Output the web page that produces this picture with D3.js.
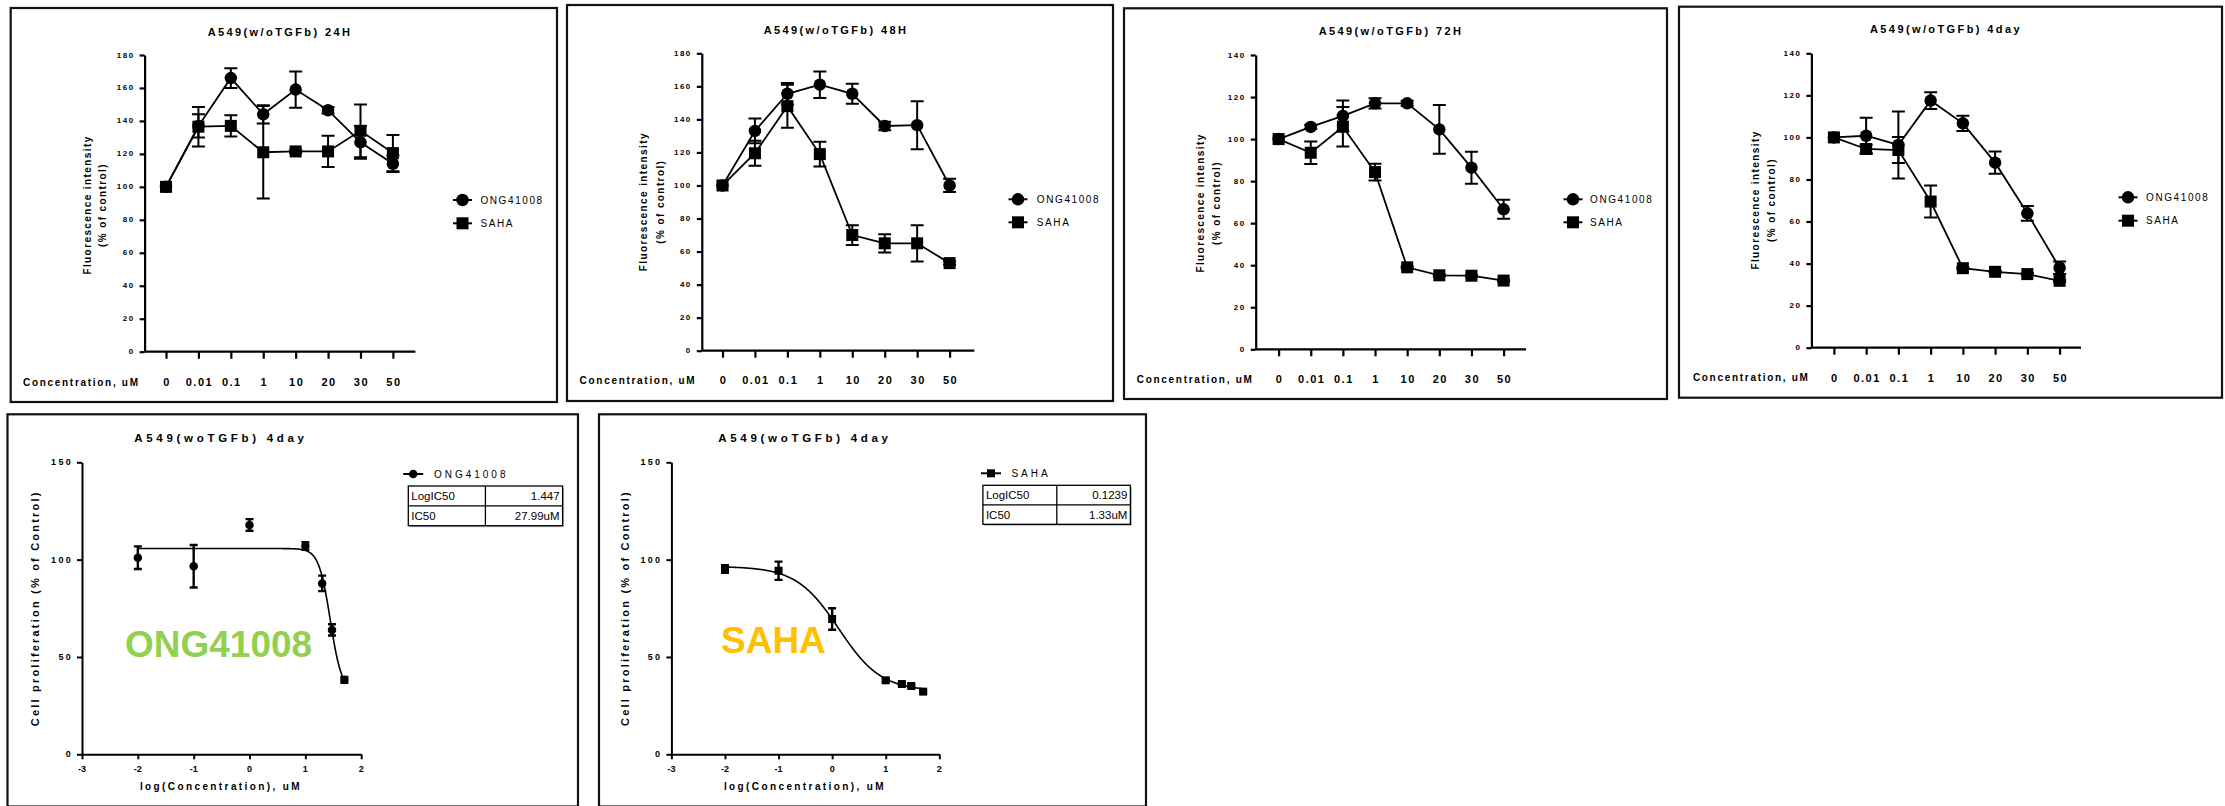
<!DOCTYPE html>
<html><head><meta charset="utf-8">
<script src="https://cdn.jsdelivr.net/npm/d3@7"></script>
<style>
body{margin:0;background:#fff}
svg text{font-family:"Liberation Sans",Arial,sans-serif;fill:#000}
</style></head><body>
<svg id="c" width="2225" height="806"></svg>
<script>
// ---------------- DATA ----------------
const concLabels = ["0","0.01","0.1","1","10","20","30","50"];
const seriesNames = ["ONG41008","SAHA"];
const yTicks180 = [0,20,40,60,80,100,120,140,160,180];
const yTicks140 = [0,20,40,60,80,100,120,140];

const ong24 = [100,137,166,144,159,146.5,127,114];
const ong24Err = [0,7,6,5.5,11,2,10,5];
const saha24 = [100,136.5,137,121,121.5,121.5,134,120.5];
const saha24Err = [0,12,6.5,28,1,9.5,16,11];

const ong48 = [100,133,155.5,161,155.5,136,136.5,100];
const ong48Err = [0,7.5,6.5,8,6,2.5,14.5,4];
const saha48 = [100,119.5,148,119,70,65,65,53];
const saha48Err = [0,7.5,13,7.5,6,5.5,11,1];

const ong72 = [100,105.8,111,117,117,104.6,86.4,66.6];
const ong72Err = [0,1,7.3,2.4,1.2,11.6,7.6,4.5];
const saha72 = [100,93.5,105.9,84.3,39,35.2,35,32.7];
const saha72Err = [0,5.3,9.4,4,0.5,0.5,0.5,0.5];

const ong4d = [100,100.8,96.4,117.5,106.7,88,63.9,38];
const ong4dErr = [0,8.6,15.9,4,3.6,5.3,3.5,3];
const saha4d = [100,94.5,94,69.5,37.8,36.1,35,31.8];
const saha4dErr = [0,2,6.2,7.6,0.5,0.5,0.5,0.5];

const logConc = [-2,-1,0,1,1.301,1.477,1.699];
const ongProlif = [101,96.6,117.8,107,87.8,63.9,38.2];
const ongProlifErr = [5.8,10.9,3,1.9,4,2.9,1.5];
const sahaProlif = [95.2,94.3,69.5,38,36.1,35.1,32.2];
const sahaProlifErr = [2,4.7,5.5,0.8,0.5,0.5,0.5];
const xTicksLog = [-3,-2,-1,0,1,2];
const yTicksProlif = [0,50,100,150];
// fitted 4PL parameters: [top, bottom, logIC50, hill]
const ongFit = [105.7,32,1.447,4.2];
const sahaFit = [96.5,32.5,0.1239,1.1];
const ongTable = [["LogIC50","1.447"],["IC50","27.99uM"]];
const sahaTable = [["LogIC50","0.1239"],["IC50","1.33uM"]];

// ---------------- DRAW ----------------
const svg = d3.select("#c");
svg.append("rect").attr("width",2225).attr("height",806).attr("fill","#fff");

function box(g,b,sw){
  g.append("rect").attr("x",b[0]).attr("y",b[1]).attr("width",b[2]-b[0]).attr("height",b[3]-b[1])
   .attr("fill","none").attr("stroke","#111").attr("stroke-width",sw||2.2);
}
function marker(g,type,cx,cy,s){
  if(type==="circle") g.append("circle").attr("cx",cx).attr("cy",cy).attr("r",s/2).attr("fill","#000");
  else g.append("rect").attr("x",cx-s/2).attr("y",cy-s/2).attr("width",s).attr("height",s).attr("fill","#000");
}
function styleAxis(a,sw){
  a.selectAll("path,line").attr("stroke","#000").attr("stroke-width",sw);
  a.selectAll("text").remove();
}

function drawTop(p, series){
  const g = svg.append("g");
  box(g,p.box);
  const x = d3.scalePoint().domain(concLabels).range([p.t0,p.t1]);
  const y = d3.scaleLinear().domain([0,p.yMax]).range([p.y0,p.yTop]);
  // title
  g.append("text").attr("x",p.title[0]).attr("y",p.title[1]).attr("text-anchor","middle")
   .attr("dominant-baseline","central").style("font-size","11px").style("font-weight","bold")
   .style("letter-spacing","2.4px").text(p.titleText);
  // y axis
  const ya = g.append("g").attr("transform",`translate(${p.ax},0)`)
   .call(d3.axisLeft(y).tickValues(p.yTicks).tickSize(5).tickSizeOuter(0));
  styleAxis(ya,2.2);
  g.selectAll(null).data(p.yTicks).join("text").attr("x",p.ax-10).attr("y",d=>y(d))
   .attr("text-anchor","end").attr("dominant-baseline","central")
   .style("font-size","8px").style("font-weight","bold").style("letter-spacing","1.5px").text(d=>d);
  // x axis
  const xa = g.append("g").attr("transform",`translate(0,${p.y0})`)
   .call(d3.axisBottom(x).tickSize(7).tickSizeOuter(0));
  styleAxis(xa,2.2);
  xa.select(".domain").attr("d",`M${p.ax},0H${p.xEnd}`);
  g.selectAll(null).data(concLabels).join("text").attr("x",d=>x(d)+1).attr("y",p.xLabY)
   .attr("text-anchor","middle").attr("dominant-baseline","central")
   .style("font-size","11px").style("font-weight","bold").style("letter-spacing","1.5px").text(d=>d);
  g.append("text").attr("x",p.concX).attr("y",p.xLabY).attr("dominant-baseline","central")
   .style("font-size","10px").style("font-weight","bold").style("letter-spacing","1.7px").text("Concentration, uM");
  // y title
  const yt = g.append("text").attr("transform",`translate(${p.ytX},${p.ytY}) rotate(-90)`)
   .attr("text-anchor","middle").style("font-size","10px").style("font-weight","bold").style("letter-spacing","1.4px");
  yt.append("tspan").attr("x",0).attr("y",0).attr("dy","0.35em").text("Fluorescence intensity");
  yt.append("tspan").attr("x",0).attr("y",p.ytGap).attr("dy","0.35em").text("(% of control)");
  // series
  const types = ["circle","square"];
  series.forEach((s,k)=>{
    const line = d3.line().x((v,i)=>x(concLabels[i])).y(v=>y(v));
    g.append("path").attr("d",line(s.v)).attr("fill","none").attr("stroke","#000").attr("stroke-width",1.8);
  });
  series.forEach((s,k)=>{
    s.v.forEach((v,i)=>{
      const e = s.e[i]; if(!e) return;
      const cx = x(concLabels[i]);
      g.append("path").attr("d",`M${cx},${y(v-e)}V${y(v+e)}M${cx-6.5},${y(v-e)}h13M${cx-6.5},${y(v+e)}h13`)
       .attr("fill","none").attr("stroke","#000").attr("stroke-width",2);
    });
    s.v.forEach((v,i)=>marker(g,types[k],x(concLabels[i]),y(v),types[k]==="circle"?12.5:12));
  });
  // legend
  seriesNames.forEach((n,k)=>{
    const ly = p.legY[k];
    g.append("line").attr("x1",p.legX-9.5).attr("x2",p.legX+9.5).attr("y1",ly).attr("y2",ly).attr("stroke","#000").attr("stroke-width",2);
    marker(g,types[k],p.legX,ly,types[k]==="circle"?12.5:12);
    g.append("text").attr("x",p.legT).attr("y",ly).attr("dominant-baseline","central")
     .style("font-size","10px").style("letter-spacing","1.6px").text(n);
  });
}

drawTop({box:[10.7,8,557,402],titleText:"A549(w/oTGFb) 24H",title:[280,32],ax:144.6,y0:351.7,yTop:55,yMax:180,yTicks:yTicks180,
  xEnd:415.4,t0:166,t1:392.9,xLabY:382,concX:23,ytX:87,ytY:205,ytGap:15,legX:462.5,legY:[200,223.3],legT:480.4},
  [{v:ong24,e:ong24Err},{v:saha24,e:saha24Err}]);
drawTop({box:[567,5,1113,401],titleText:"A549(w/oTGFb) 48H",title:[836,29.5],ax:701.8,y0:350.7,yTop:53.3,yMax:180,yTicks:yTicks180,
  xEnd:974.3,t0:722.5,t1:949.6,xLabY:380,concX:579.6,ytX:643,ytY:201.7,ytGap:17,legX:1018,legY:[199.3,222.3],legT:1036.8},
  [{v:ong48,e:ong48Err},{v:saha48,e:saha48Err}]);
drawTop({box:[1124,8.3,1667,399],titleText:"A549(w/oTGFb) 72H",title:[1391,30.7],ax:1255.7,y0:349.3,yTop:55,yMax:140,yTicks:yTicks140,
  xEnd:1526,t0:1278.6,t1:1503.6,xLabY:379.3,concX:1136.8,ytX:1200,ytY:203,ytGap:16,legX:1573,legY:[199.3,222.3],legT:1590},
  [{v:ong72,e:ong72Err},{v:saha72,e:saha72Err}]);
drawTop({box:[1679,6.7,2222,397.7],titleText:"A549(w/oTGFb) 4day",title:[1946,29.3],ax:1811.4,y0:347.7,yTop:53.3,yMax:140,yTicks:yTicks140,
  xEnd:2081,t0:1833.9,t1:2059.6,xLabY:377.7,concX:1692.9,ytX:1755,ytY:200,ytGap:16,legX:2128,legY:[197.3,220.7],legT:2146},
  [{v:ong4d,e:ong4dErr},{v:saha4d,e:saha4dErr}]);

function drawBottom(p, s){
  const g = svg.append("g");
  box(g,p.box);
  const x = d3.scaleLinear().domain([-3,2]).range([p.ax,p.xEnd]);
  const y = d3.scaleLinear().domain([0,150]).range([p.y0,p.yTop]);
  g.append("text").attr("x",p.title[0]).attr("y",p.title[1]).attr("text-anchor","middle")
   .attr("dominant-baseline","central").style("font-size","11.5px").style("font-weight","bold")
   .style("letter-spacing","3.7px").text("A549(woTGFb) 4day");
  const ya = g.append("g").attr("transform",`translate(${p.ax},0)`)
   .call(d3.axisLeft(y).tickValues(yTicksProlif).tickSize(5).tickSizeOuter(0));
  styleAxis(ya,2);
  g.selectAll(null).data(yTicksProlif).join("text").attr("x",p.ax-9).attr("y",d=>y(d))
   .attr("text-anchor","end").attr("dominant-baseline","central")
   .style("font-size","9px").style("font-weight","bold").style("letter-spacing","2.3px").text(d=>d);
  const xa = g.append("g").attr("transform",`translate(0,${p.y0})`)
   .call(d3.axisBottom(x).tickValues(xTicksLog).tickSize(5).tickSizeOuter(0));
  styleAxis(xa,2);
  g.selectAll(null).data(xTicksLog).join("text").attr("x",d=>x(d)).attr("y",p.y0+15)
   .attr("text-anchor","middle").attr("dominant-baseline","central")
   .style("font-size","9px").style("font-weight","bold").text(d=>d);
  g.append("text").attr("x",p.xt[0]).attr("y",p.xt[1]).attr("text-anchor","middle").attr("dominant-baseline","central")
   .style("font-size","10px").style("font-weight","bold").style("letter-spacing","2.4px").text("log(Concentration), uM");
  g.append("text").attr("transform",`translate(${p.yt[0]},${p.yt[1]}) rotate(-90)`).attr("text-anchor","middle")
   .attr("dominant-baseline","central").style("font-size","11px").style("font-weight","bold").style("letter-spacing","2.2px")
   .text("Cell proliferation (% of Control)");
  // big label
  g.append("text").attr("x",p.big[0]).attr("y",p.big[1]).style("font-size","37px").style("font-weight","bold")
   .style("fill",p.bigColor).text(p.name);
  // fitted curve
  const f = p.fit;
  const xs = d3.range(logConc[0], logConc[logConc.length-1]+0.0001, 0.01);
  const line = d3.line().x(v=>x(v)).y(v=>y(f[1]+(f[0]-f[1])/(1+Math.pow(10,(v-f[2])*f[3]))));
  g.append("path").attr("d",line(xs)).attr("fill","none").attr("stroke","#000").attr("stroke-width",1.6);
  // error bars + markers
  s.v.forEach((v,i)=>{
    const cx = x(logConc[i]), e = s.e[i];
    g.append("path").attr("d",`M${cx},${y(v-e)}V${y(v+e)}M${cx-4},${y(v-e)}h8M${cx-4},${y(v+e)}h8`)
     .attr("fill","none").attr("stroke","#000").attr("stroke-width",2.4);
    marker(g,p.type,cx,y(v),p.type==="circle"?8.5:8);
  });
  // legend
  g.append("line").attr("x1",p.leg[0]-10).attr("x2",p.leg[0]+10).attr("y1",p.leg[1]).attr("y2",p.leg[1]).attr("stroke","#000").attr("stroke-width",2);
  marker(g,p.type,p.leg[0],p.leg[1],p.type==="circle"?8.5:8);
  g.append("text").attr("x",p.leg[2]).attr("y",p.leg[1]).attr("dominant-baseline","central")
   .style("font-size","10px").style("letter-spacing","3px").text(p.name);
  // table
  const t = p.table;
  g.append("rect").attr("x",t[0]+1.5).attr("y",t[1]+1.5).attr("width",t[2]-t[0]).attr("height",t[3]-t[1]).attr("fill","#bbb");
  g.append("rect").attr("x",t[0]).attr("y",t[1]).attr("width",t[2]-t[0]).attr("height",t[3]-t[1]).attr("fill","#fff").attr("stroke","#000").attr("stroke-width",1.3);
  g.append("line").attr("x1",t[0]).attr("x2",t[2]).attr("y1",(t[1]+t[3])/2).attr("y2",(t[1]+t[3])/2).attr("stroke","#000").attr("stroke-width",1.3);
  g.append("line").attr("x1",t[4]).attr("x2",t[4]).attr("y1",t[1]).attr("y2",t[3]).attr("stroke","#000").attr("stroke-width",1.3);
  const rh = (t[3]-t[1])/2;
  p.tableData.forEach((r,i)=>{
    const cy = t[1]+rh*(i+0.5);
    g.append("text").attr("x",t[0]+3).attr("y",cy).attr("dominant-baseline","central").style("font-size","11.5px").text(r[0]);
    g.append("text").attr("x",t[2]-3).attr("y",cy).attr("text-anchor","end").attr("dominant-baseline","central").style("font-size","11.5px").text(r[1]);
  });
}

drawBottom({box:[7.5,414.3,578,806.5],ax:82,xEnd:361.2,y0:754.3,yTop:462.3,title:[221,438.3],xt:[221,786],yt:[34.6,608.3],
  big:[125,656.7],bigColor:"#92D050",name:"ONG41008",fit:ongFit,type:"circle",leg:[413.2,474,433.9],
  table:[408.3,486,562.6,525.7,485.4],tableData:ongTable},{v:ongProlif,e:ongProlifErr});
drawBottom({box:[599,414.3,1146,806.5],ax:671.4,xEnd:939.3,y0:754.3,yTop:462.3,title:[805,438.3],xt:[805,786],yt:[624.6,608],
  big:[721,653.3],bigColor:"#FFC000",name:"SAHA",fit:sahaFit,type:"square",leg:[991,473.3,1011.4],
  table:[982.9,485.3,1130.4,524.3,1056.8],tableData:sahaTable},{v:sahaProlif,e:sahaProlifErr});
</script>
</body></html>
